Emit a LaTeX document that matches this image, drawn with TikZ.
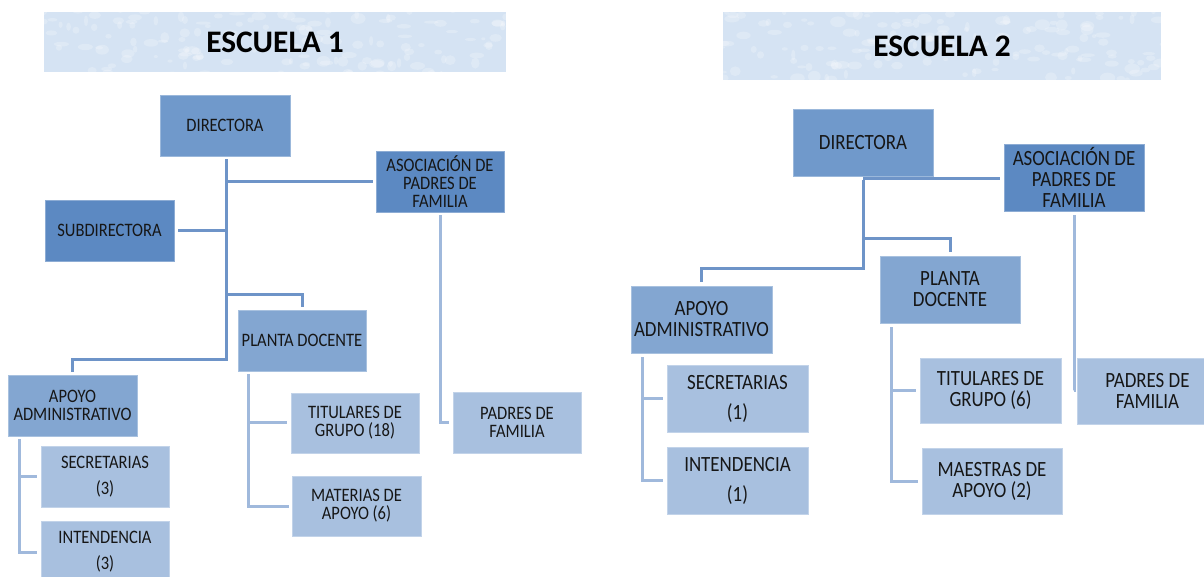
\documentclass[tikz,border=0pt]{standalone}
\usepackage{fontspec}
\setmainfont{Carlito}
\newfontfamily\bxfont{Carlito}[FakeStretch=0.87]
\usetikzlibrary{calc}
\definecolor{cdir}{RGB}{112,153,203}
\definecolor{cdark}{RGB}{92,137,194}
\definecolor{cmid}{RGB}{131,166,209}
\definecolor{cleaf}{RGB}{168,192,223}
\definecolor{chead}{RGB}{213,227,243}
\definecolor{cmline}{RGB}{110,148,200}
\definecolor{clline}{RGB}{160,185,220}
\definecolor{ctxt}{RGB}{22,22,22}
\tikzset{
  box/.style={rectangle, inner sep=0pt, align=center, text=ctxt},
  wh/.style 2 args={minimum width=#1*0.75pt, minimum height=#2*0.75pt},
  fdir/.style={fill=cdir, draw=white!30!cdir, line width=0.6pt},
  fdark/.style={fill=cdark, draw=white!30!cdark, line width=0.6pt},
  fmid/.style={fill=cmid, draw=white!30!cmid, line width=0.6pt},
  fleaf/.style={fill=cleaf, draw=white!30!cleaf, line width=0.6pt},
  fa/.style={font={\bxfont\fontsize{14.25}{13.5}\selectfont}},
  fawide/.style={font={\bxfont\fontsize{14.25}{19.5}\selectfont}},
  fb/.style={font={\bxfont\fontsize{16.3}{15.75}\selectfont}},
  fbwide/.style={font={\bxfont\fontsize{16.3}{22.5}\selectfont}},
  head/.style={rectangle, inner sep=0pt, fill=chead, text=black,
    font={\bfseries\fontsize{23.5}{28}\selectfont},
    path picture={
      \foreach \i in {1,...,160}{
        \pgfmathsetmacro\dx{(rnd-0.5)*470}
        \pgfmathsetmacro\dy{(rnd-0.5)*72}
        \pgfmathsetmacro\rx{2+rnd*6}
        \pgfmathsetmacro\ry{1.5+rnd*4}
        \fill[white,opacity=0.22] ($(path picture bounding box.center)+(\dx,\dy)$) ellipse [x radius=\rx, y radius=\ry];
      }
    }},
  mline/.style={draw=cmline, line width=2.25pt},
  lline/.style={draw=clline, line width=2.25pt},
}
\pgfmathsetseed{11}
\begin{document}
\begin{tikzpicture}[x=0.75pt,y=-0.75pt]
\clip (0,0) rectangle (1204,577);
\fill[white] (0,0) rectangle (1204,577);
% ---------- ESCUELA 1 ----------
\node[head, wh={462}{60}] (e1head) at (275,42) {ESCUELA 1};
\node[box,fdir,fa,wh={130}{61}] (e1dir) at (225,125.5) {DIRECTORA};
\node[box,fdark,fa,wh={128}{61}] (e1asoc) at (440,181.5) {ASOCIACIÓN DE\\PADRES DE\\FAMILIA};
\node[box,fdark,fa,wh={129}{61}] (e1sub) at (109.5,230.5) {SUBDIRECTORA};
\node[box,fmid,fa,wh={128}{61}] (e1plan) at (302,340.5) {PLANTA DOCENTE};
\node[box,fmid,fa,wh={129}{61}] (e1apoyo) at (72.5,405.5) {APOYO\\ADMINISTRATIVO};
\node[box,fleaf,fawide,wh={128}{61}] (e1sec) at (105,476.5) {SECRETARIAS\\(3)};
\node[box,fleaf,fawide,wh={128}{61}] (e1int) at (105,552) {INTENDENCIA\\(3)};
\node[box,fleaf,fa,wh={128}{60}] (e1tit) at (355,423) {TITULARES DE\\GRUPO (18)};
\node[box,fleaf,fa,wh={129}{60}] (e1mat) at (356.5,506) {MATERIAS DE\\APOYO (6)};
\node[box,fleaf,fa,wh={128}{61}] (e1pad) at (517,422.5) {PADRES DE\\FAMILIA};
\draw[mline] ($(e1dir.south)+(1,3)$) |- (72.5,360) -- ($(e1apoyo.north)+(0,-3)$);
\draw[mline] (226,182) -- ($(e1asoc.west)+(-3,0.5)$);
\draw[mline] ($(e1sub.east)+(4,0)$) -- (226,230.5);
\draw[mline] (226,295) -| ($(e1plan.north)+(0,-3)$);
\draw[lline] ($(e1plan.south west)+(11,3)$) |- ($(e1mat.west)+(-3,0)$);
\draw[lline] (249,423) -- ($(e1tit.west)+(-4,0)$);
\draw[lline] ($(e1apoyo.south west)+(12,3)$) |- ($(e1int.west)+(-4,0)$);
\draw[lline] (20,476.5) -- ($(e1sec.west)+(-4,0)$);
\draw[lline] ($(e1asoc.south)+(0,3)$) |- ($(e1pad.west)+(-4,0)$);
% ---------- ESCUELA 2 ----------
\node[head, wh={438}{68}] (e2head) at (942,46) {ESCUELA 2};
\node[box,fdir,fb,wh={140}{67}] (e2dir) at (863,142.5) {DIRECTORA};
\node[box,fdark,fb,wh={140}{67}] (e2asoc) at (1074,177.5) {ASOCIACIÓN DE\\PADRES DE\\FAMILIA};
\node[box,fmid,fb,wh={140}{67}] (e2plan) at (950,289.5) {PLANTA\\DOCENTE};
\node[box,fmid,fb,wh={141}{67}] (e2apoyo) at (701.5,319.5) {APOYO\\ADMINISTRATIVO};
\node[box,fleaf,fbwide,wh={141}{67}] (e2sec) at (737.5,398.5) {SECRETARIAS\\(1)};
\node[box,fleaf,fbwide,wh={141}{67}] (e2int) at (737.5,480.5) {INTENDENCIA\\(1)};
\node[box,fleaf,fb,wh={141}{65}] (e2tit) at (990.5,390.5) {TITULARES DE\\GRUPO (6)};
\node[box,fleaf,fb,wh={140}{66}] (e2mae) at (992,481) {MAESTRAS DE\\APOYO (2)};
\node[box,fleaf,fb,wh={141}{66}] (e2pad) at (1147.5,391) {PADRES DE\\FAMILIA};
\draw[mline] ($(e2dir.south)+(0,4)$) |- (701.5,269) -- ($(e2apoyo.north)+(0,-4)$);
\draw[mline] (863,178.5) -- ($(e2asoc.west)+(-4,1)$);
\draw[mline] (863,239) -| ($(e2plan.north)+(0,-4)$);
\draw[lline] ($(e2apoyo.south west)+(12,4)$) |- ($(e2int.west)+(-4,0)$);
\draw[lline] (643,398.5) -- ($(e2sec.west)+(-4,0)$);
\draw[lline] ($(e2plan.south west)+(12,4)$) |- ($(e2mae.west)+(-4,0)$);
\draw[lline] (892,390.5) -- ($(e2tit.west)+(-4,0)$);
\draw[lline] ($(e2asoc.south)+(0,4)$) |- ($(e2pad.west)+(-3,0)$);
\end{tikzpicture}
\end{document}
